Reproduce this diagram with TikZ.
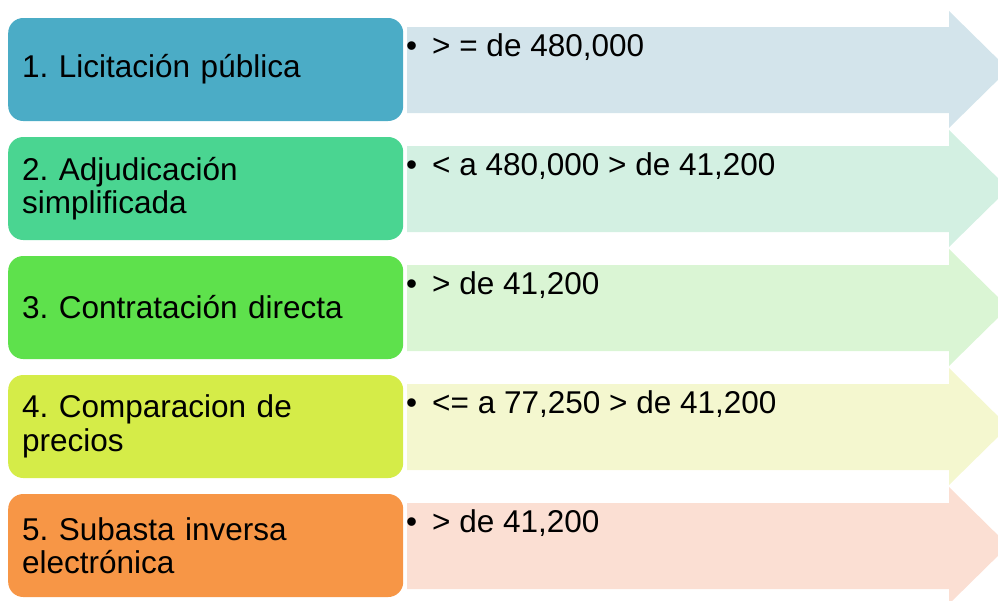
\documentclass[tikz,border=0pt]{standalone}
\usepackage{fontspec}
\setmainfont{Liberation Sans}
\usetikzlibrary{positioning}
\frenchspacing

\definecolor{boxA}{HTML}{4BACC6}
\definecolor{boxB}{HTML}{4AD591}
\definecolor{boxC}{HTML}{5EE14C}
\definecolor{boxD}{HTML}{D5EC48}
\definecolor{boxE}{HTML}{F79646}
\definecolor{arrA}{HTML}{D3E4EB}
\definecolor{arrB}{HTML}{D3F0E2}
\definecolor{arrC}{HTML}{DAF5D4}
\definecolor{arrD}{HTML}{F4F7CF}
\definecolor{arrE}{HTML}{FBDFD3}

\begin{document}
\begin{tikzpicture}[x=1pt,y=-1pt,
  catbox/.style={rounded corners=15pt,anchor=west,text width=367pt,
    inner xsep=14pt,inner ysep=0pt,minimum height=103pt,align=left,
    font=\fontsize{31.5}{33.5}\selectfont},
  rangetext/.style={anchor=base west,inner sep=0pt,
    font=\fontsize{31.5}{33.5}\selectfont}]
  \clip (0,0) rectangle (998,600);
  % arrows
  \fill[arrA] (407,27)--(949,27)--(949,11)--(1008.5,69.5)--(949,128)--(949,113)--(407,113)--cycle;
  \fill[arrB] (407,146)--(949,146)--(949,130)--(1008.5,188.5)--(949,247)--(949,232)--(407,232)--cycle;
  \fill[arrC] (407,265)--(949,265)--(949,249)--(1008.5,307.5)--(949,366)--(949,351)--(407,351)--cycle;
  \fill[arrD] (407,384)--(949,384)--(949,368)--(1008.5,426.5)--(949,485)--(949,470)--(407,470)--cycle;
  \fill[arrE] (407,503)--(949,503)--(949,487)--(1008.5,545.5)--(949,604)--(949,589)--(407,589)--cycle;
  % categories
  \node[catbox,fill=boxA] (lic) at (8,69.5) {1. Licitación pública};
  \node[catbox,fill=boxB] (adj) at (8,188.5) {2. Adjudicación\\simplificada};
  \node[catbox,fill=boxC] (con) at (8,307.5) {3. Contratación directa};
  \node[catbox,fill=boxD] (com) at (8,426.5) {4. Comparacion de\\precios};
  \node[catbox,fill=boxE] (sub) at (8,545.5) {5. Subasta inversa\\electrónica};
  % ranges
  \node[rangetext] (rlic) at (406,56.5) {\textbullet\hspace{15pt}> = de 480,000};
  \node[rangetext] (radj) at (406,175.5) {\textbullet\hspace{15pt}< a 480,000 > de 41,200};
  \node[rangetext] (rcon) at (406,294.5) {\textbullet\hspace{15pt}> de 41,200};
  \node[rangetext] (rcom) at (406,413.5) {\textbullet\hspace{15pt}<= a 77,250 > de 41,200};
  \node[rangetext] (rsub) at (406,532.5) {\textbullet\hspace{15pt}> de 41,200};
\end{tikzpicture}
\end{document}
